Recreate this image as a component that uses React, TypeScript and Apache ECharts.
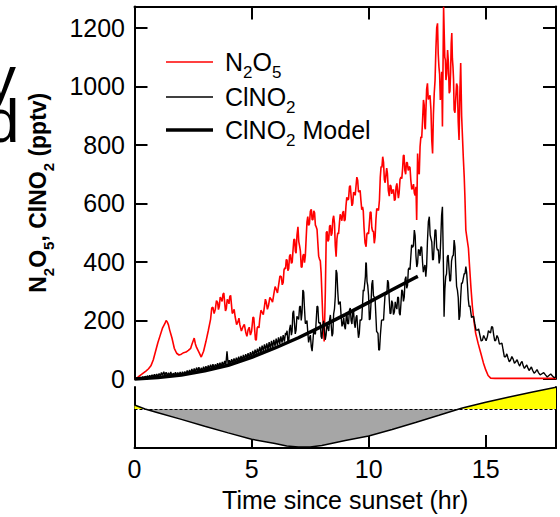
import { useEffect, useRef } from 'react';
import * as echarts from 'echarts';

const FONT = '"Liberation Sans", Arial, Helvetica, sans-serif';

// N2O5 (pptv) vs time since sunset (hr) — main trace readings
const n2o5Main: [number, number][] = [
  [0, 0], [0.1, 3], [0.2, 10], [0.3, 16], [0.4, 22], [0.5, 28], [0.6, 35], [0.7, 45], [0.8, 65], [0.9, 95],
  [1.0, 125], [1.1, 150], [1.2, 175], [1.3, 190], [1.35, 200], [1.4, 195], [1.45, 185], [1.5, 168], [1.6, 140],
  [1.7, 105], [1.8, 88], [1.9, 82], [2.0, 85], [2.1, 90], [2.2, 92], [2.3, 98], [2.4, 105], [2.45, 118],
  [2.55, 140], [2.6, 120], [2.65, 108], [2.75, 92], [2.85, 75], [2.95, 95], [3.05, 128], [3.15, 165],
  [3.25, 205], [3.35, 245], [3.45, 238], [3.55, 262], [3.62, 248], [3.7, 275], [3.78, 290], [3.85, 262],
  [3.92, 240], [4.0, 268], [4.07, 282], [4.14, 255], [4.21, 228], [4.3, 212], [4.42, 196], [4.5, 185],
  [4.63, 178], [4.75, 160], [4.85, 168], [4.95, 150], [5.06, 212], [5.13, 170], [5.2, 133], [5.28, 180],
  [5.35, 205], [5.45, 228], [5.55, 248], [5.63, 262], [5.72, 250], [5.84, 272], [5.95, 290], [6.06, 305],
  [6.15, 318], [6.27, 350], [6.35, 330], [6.42, 380], [6.48, 408], [6.55, 370], [6.62, 420], [6.7, 395],
  [6.77, 440], [6.84, 478], [6.9, 430], [6.98, 520], [7.05, 455], [7.12, 382], [7.19, 420], [7.26, 398],
  [7.33, 480], [7.4, 555], [7.47, 530], [7.55, 580], [7.62, 545], [7.69, 568], [7.76, 520], [7.83, 465],
  [7.9, 410], [7.97, 362], [8.04, 212], [8.1, 128], [8.15, 300], [8.19, 500], [8.26, 470], [8.33, 522],
  [8.4, 490], [8.47, 545], [8.54, 532], [8.61, 418], [8.68, 500], [8.75, 532], [8.82, 555], [8.89, 568],
  [8.96, 540], [9.03, 590], [9.1, 612], [9.18, 657], [9.25, 625], [9.32, 600], [9.39, 636], [9.46, 660],
  [9.53, 680], [9.6, 640], [9.67, 610], [9.74, 588], [9.8, 520], [9.89, 452], [9.96, 500], [10.03, 532],
  [10.1, 570], [10.17, 505], [10.24, 464], [10.31, 545], [10.38, 580], [10.46, 612], [10.53, 726],
  [10.6, 760], [10.67, 682], [10.74, 700], [10.8, 703], [10.88, 625], [10.95, 660], [11.02, 645],
  [11.1, 610], [11.17, 657], [11.24, 640], [11.3, 635], [11.38, 690], [11.45, 720], [11.51, 766],
  [11.58, 700], [11.65, 740], [11.73, 726], [11.8, 680], [11.88, 655], [11.95, 636], [12.02, 657],
  [12.05, 544], [12.09, 771], [12.16, 700], [12.23, 828], [12.3, 880], [12.34, 954], [12.4, 860],
  [12.44, 908], [12.51, 1011], [12.58, 960], [12.66, 920], [12.73, 771], [12.8, 977], [12.87, 1125],
  [12.94, 1216], [13.0, 1068], [13.06, 954], [13.12, 1050], [13.15, 863], [13.2, 1273], [13.25, 1100],
  [13.3, 1022], [13.37, 1125], [13.44, 977], [13.5, 1050], [13.55, 1183], [13.6, 1068], [13.65, 920],
  [13.72, 960], [13.79, 1000], [13.86, 817], [13.93, 1080], [13.97, 900], [14.0, 840], [14.04, 760],
  [14.08, 692], [14.11, 623], [14.15, 509], [14.2, 480], [14.26, 447], [14.31, 384], [14.37, 310],
  [14.43, 247], [14.5, 195], [14.57, 156], [14.68, 120], [14.79, 88], [14.9, 55], [15.0, 31], [15.1, 12],
  [15.21, 3], [15.4, 2], [16, 2], [17, 2], [18, 2],
];

// N2O5 short-term fluctuations read between the main readings
const n2o5Jitter: [number, number][] = [
  [3.3, 243], [3.4, 224], [3.5, 268], [3.585, 237], [3.66, 280], [3.74, 265], [3.815, 294], [3.885, 233],
  [3.96, 272], [4.035, 257], [4.105, 286], [4.175, 224], [4.255, 238], [4.36, 186], [4.46, 208], [4.565, 164],
  [4.69, 187], [4.8, 146], [4.9, 177], [5.0, 163], [5.095, 209], [5.165, 134], [5.24, 175], [5.315, 175],
  [5.4, 235], [5.5, 220], [5.59, 273], [5.675, 238], [5.78, 279], [5.895, 263], [6.005, 316], [6.105, 294],
  [6.21, 352], [6.31, 322], [6.385, 373], [6.45, 376], [6.515, 407], [6.585, 377], [6.66, 426], [6.735, 400],
  [6.805, 477], [6.87, 436], [6.94, 493], [7.015, 470], [7.085, 437], [7.155, 383], [7.225, 427], [7.295, 421],
  [7.365, 536], [7.435, 525], [7.51, 573], [7.585, 545], [7.655, 575], [7.725, 526], [7.795, 511], [7.865, 420],
  [7.935, 404], [8.225, 505], [8.295, 476], [8.365, 526], [8.435, 498], [8.505, 558], [8.575, 455], [8.645, 479],
  [8.715, 496], [8.785, 563], [8.855, 541], [8.925, 574], [8.995, 545], [9.065, 621], [9.14, 615], [9.215, 661],
  [9.285, 592], [9.355, 638], [9.425, 628], [9.495, 690], [9.565, 640], [9.635, 645], [9.705, 579], [9.77, 574],
  [9.845, 466], [9.925, 496], [9.995, 496], [10.065, 571], [10.135, 517], [10.205, 505], [10.275, 485],
  [10.345, 583], [10.42, 576], [10.495, 689], [10.565, 723], [10.635, 741], [10.705, 671], [10.77, 721],
  [10.84, 644], [10.915, 663], [10.985, 633], [11.06, 648], [11.135, 614], [11.205, 669], [11.27, 618],
  [11.34, 683], [11.415, 685], [11.48, 763], [11.545, 713], [11.615, 740], [11.69, 713], [11.765, 723],
  [11.84, 648], [11.915, 666], [11.985, 627], [12.125, 706], [12.195, 794], [12.265, 824], [12.37, 937],
  [12.42, 854], [12.475, 990], [12.545, 956], [12.62, 970], [12.695, 816], [12.765, 904], [12.835, 1021],
  [12.905, 1200], [12.97, 1112], [13.03, 1041], [13.09, 972], [13.275, 1091], [13.335, 1044], [13.405, 1081],
  [13.47, 984], [13.525, 1147], [13.575, 1096], [13.625, 1024], [13.685, 910], [13.755, 1010], [13.825, 879],
  [13.895, 979],
];

// ClNO2 measured (pptv) — early part (dense band)
const clno2Early: [number, number][] = [
  [0, 0], [0.05, 3], [0.1, 1], [0.15, 5], [0.2, 2], [0.25, 6], [0.3, 3], [0.35, 8], [0.4, 4], [0.45, 9],
  [0.5, 5], [0.55, 11], [0.6, 6], [0.65, 12], [0.7, 7], [0.75, 14], [0.8, 8], [0.85, 16], [0.9, 9], [0.95, 17],
  [1.0, 8], [1.05, 19], [1.1, 10], [1.15, 22], [1.2, 12], [1.25, 25], [1.3, 13], [1.35, 23], [1.4, 11], [1.45, 21],
  [1.5, 12], [1.55, 24], [1.6, 10], [1.65, 20], [1.7, 13], [1.75, 23], [1.8, 11], [1.85, 22], [1.9, 13], [1.95, 24],
  [2.0, 12], [2.05, 25], [2.1, 14], [2.15, 26], [2.2, 16], [2.25, 29], [2.3, 18], [2.35, 31], [2.4, 20], [2.45, 34],
  [2.5, 22], [2.55, 36], [2.6, 25], [2.65, 39], [2.7, 27], [2.75, 40], [2.8, 26], [2.85, 38], [2.9, 28], [2.95, 42],
  [3.0, 30], [3.05, 44], [3.1, 32], [3.15, 46], [3.2, 34], [3.25, 49], [3.3, 36], [3.35, 51], [3.4, 38], [3.45, 50],
  [3.5, 40], [3.55, 54], [3.6, 41], [3.65, 56], [3.7, 43], [3.75, 58], [3.8, 45], [3.85, 62], [3.9, 48], [3.95, 95],
  [4.0, 50], [4.05, 64], [4.1, 52], [4.15, 68], [4.2, 55], [4.25, 70], [4.3, 57], [4.35, 73], [4.4, 60], [4.45, 76],
  [4.5, 62], [4.55, 79], [4.6, 64], [4.65, 82], [4.7, 67], [4.75, 85], [4.8, 70], [4.85, 88], [4.9, 72], [4.95, 92],
  [5.0, 75], [5.05, 96], [5.1, 80], [5.15, 100], [5.2, 84], [5.25, 104], [5.3, 88], [5.35, 110], [5.4, 90], [5.45, 114],
  [5.5, 95], [5.55, 118], [5.6, 98], [5.65, 122], [5.7, 100], [5.75, 126], [5.8, 104], [5.85, 130], [5.9, 108], [5.95, 134],
  [6.0, 112], [6.05, 138], [6.1, 116], [6.15, 142], [6.2, 120], [6.25, 146], [6.3, 124], [6.35, 150], [6.4, 128], [6.45, 158],
];

// ClNO2 measured (pptv) — later part
const clno2Late: [number, number][] = [
  [6.48, 150], [6.55, 130], [6.62, 170], [6.7, 150], [6.76, 225], [6.83, 190], [6.9, 167], [6.97, 210], [7.05, 247],
  [7.12, 200], [7.19, 304], [7.26, 240], [7.33, 190], [7.4, 160], [7.47, 140], [7.55, 110], [7.62, 130],
  [7.69, 156], [7.76, 200], [7.83, 247], [7.9, 190], [7.97, 145], [8.04, 180], [8.11, 167], [8.18, 150],
  [8.26, 175], [8.33, 202], [8.4, 185], [8.47, 156], [8.54, 240], [8.61, 373], [8.68, 300], [8.75, 259],
  [8.82, 220], [8.9, 190], [8.97, 179], [9.04, 210], [9.1, 190], [9.18, 236], [9.25, 200], [9.32, 225],
  [9.39, 190], [9.46, 210], [9.53, 175], [9.6, 156], [9.67, 200], [9.74, 259], [9.8, 300], [9.86, 350],
  [9.9, 395], [9.96, 320], [10.03, 202], [10.1, 260], [10.17, 338], [10.24, 280], [10.31, 213],
  [10.37, 160], [10.43, 99], [10.5, 150], [10.6, 202], [10.67, 250], [10.74, 290], [10.81, 338],
  [10.88, 270], [10.95, 225], [11.02, 260], [11.1, 230], [11.17, 247], [11.24, 280], [11.31, 225],
  [11.38, 260], [11.45, 300], [11.52, 280], [11.59, 350], [11.66, 320], [11.73, 380], [11.8, 418],
  [11.87, 450], [11.95, 509], [12.02, 420], [12.09, 395], [12.16, 440], [12.23, 452], [12.3, 400],
  [12.37, 380], [12.44, 350], [12.51, 470], [12.59, 555], [12.66, 480], [12.73, 407], [12.8, 460],
  [12.87, 509], [12.94, 440], [13.01, 395], [13.08, 480], [13.15, 589], [13.19, 400], [13.22, 213],
  [13.29, 350], [13.36, 418], [13.43, 380], [13.5, 338], [13.58, 420], [13.65, 475], [13.72, 380],
  [13.79, 304], [13.86, 202], [13.93, 280], [14.0, 327], [14.08, 360], [14.15, 384], [14.22, 320],
  [14.29, 247], [14.36, 230], [14.43, 213], [14.53, 190], [14.64, 167], [14.75, 150], [14.86, 133],
  [14.96, 140], [15.07, 145], [15.16, 160], [15.25, 179], [15.34, 150], [15.43, 133], [15.53, 140],
  [15.64, 121], [15.74, 100], [15.85, 76], [15.95, 72], [16.06, 65], [16.17, 68], [16.28, 59], [16.4, 52],
  [16.5, 55], [16.6, 45], [16.7, 42], [16.8, 38], [16.9, 35], [17.0, 30], [17.13, 25], [17.25, 22],
  [17.4, 18], [17.55, 14], [17.7, 12], [17.85, 10], [18.0, 8],
];

// ClNO2 short-term fluctuations read between the later readings
const clno2Jitter: [number, number][] = [
  [6.515, 165], [6.585, 125], [6.66, 185], [6.73, 163], [6.795, 233], [6.865, 154], [6.935, 214], [7.01, 204],
  [7.085, 249], [7.155, 227], [7.225, 297], [7.295, 190], [7.365, 200], [7.435, 125], [7.51, 150], [7.585, 95],
  [7.655, 168], [7.725, 153], [7.795, 249], [7.865, 194], [7.935, 193], [8.005, 138], [8.075, 199], [8.145, 134],
  [8.22, 188], [8.295, 164], [8.365, 219], [8.435, 146], [8.505, 223], [8.575, 282], [8.645, 362], [8.715, 255],
  [8.785, 265], [8.86, 180], [8.935, 210], [9.005, 170], [9.07, 225], [9.14, 188], [9.215, 243], [9.285, 188],
  [9.355, 233], [9.425, 175], [9.495, 218], [9.565, 141], [9.635, 203], [9.705, 205], [9.77, 305], [9.83, 300],
  [9.88, 398], [9.93, 333], [9.995, 286], [10.065, 206], [10.135, 324], [10.205, 284], [10.275, 272],
  [10.34, 162], [10.4, 155], [10.465, 100], [10.55, 201], [10.635, 201], [10.705, 295], [10.775, 289],
  [10.845, 329], [10.915, 223], [10.985, 268], [11.06, 220], [11.135, 264], [11.205, 239], [11.275, 278],
  [11.345, 218], [11.415, 305], [11.485, 265], [11.555, 340], [11.625, 310], [11.695, 375], [11.765, 374],
  [11.835, 459], [11.91, 455], [11.985, 490], [12.055, 383], [12.125, 443], [12.195, 421], [12.265, 451],
  [12.335, 365], [12.405, 390], [12.475, 385], [12.55, 538], [12.625, 493], [12.695, 469], [12.765, 409],
  [12.835, 510], [12.905, 450], [12.975, 443], [13.045, 413], [13.115, 560], [13.255, 307], [13.325, 359],
  [13.395, 424], [13.465, 334], [13.54, 404], [13.615, 423], [13.685, 453], [13.755, 317], [13.825, 278],
  [13.895, 216], [13.965, 329], [14.115, 360], [14.185, 364], [14.255, 272], [14.325, 251], [14.395, 210],
  [14.48, 214], [14.585, 167], [14.695, 171], [14.805, 130], [14.91, 149], [15.015, 131], [15.115, 165],
  [15.205, 158], [15.295, 177], [15.385, 130], [15.48, 149], [15.585, 119], [15.69, 123], [15.795, 76],
  [15.9, 86], [16.005, 59], [16.115, 77], [16.225, 54], [16.34, 66], [16.45, 44], [16.55, 60], [16.65, 36],
  [16.75, 48], [16.85, 29], [16.95, 41], [17.065, 20], [17.19, 32], [17.325, 14], [17.475, 22], [17.625, 7],
  [17.775, 17], [17.925, 4],
];

// ClNO2 model (pptv)
const clno2Model: [number, number][] = [
  [0, 0], [1, 5], [2, 14], [3, 28], [4, 47], [5, 74], [6, 106], [7, 141], [8, 180], [9, 220],
  [10, 262], [11, 305], [12, 347], [12.1, 351],
];

// Solar elevation indicator for the lower strip (arbitrary degrees)
const sunTime = [0, 0.45, 1, 2, 3, 4, 5, 6, 6.5, 7, 7.5, 8, 8.5, 9, 10, 11, 12, 13, 13.86, 14, 15, 16, 17, 18];
const sunElev = [4, 0, -3.7, -10.4, -17.2, -23.9, -30.3, -34.5, -37, -38, -38, -36.5, -34, -31.5, -27, -20.5, -13.5, -6.3, 0, 1, 6.8, 12, 17, 21.7];

const yTicks = [0, 200, 400, 600, 800, 1000, 1200];
const xTicks = [0, 5, 10, 15];

const merge = (...parts: [number, number][][]) =>
  parts.flat().slice().sort((a, b) => a[0] - b[0]);

export default function App() {
  const ref = useRef<HTMLDivElement>(null);

  useEffect(() => {
    if (!ref.current) return;
    const chart = echarts.init(ref.current, undefined, { renderer: 'svg' });

    const n2o5 = merge(n2o5Main, n2o5Jitter);
    const clno2 = merge(clno2Early, clno2Late, clno2Jitter);
    const sun = sunTime.map((t, i) => [t, sunElev[i]]);
    const sunNeg = sunTime.map((t, i) => [t, Math.min(0, sunElev[i])]);
    const sunPos = sunTime.map((t, i) => [t, Math.max(0, sunElev[i])]);

    const axisLine = { show: true, onZero: false, lineStyle: { color: '#000', width: 2 } };
    const tick = { show: true, inside: true, length: 13, lineStyle: { color: '#000', width: 2 } };
    const labelStyle = { color: '#000', fontFamily: FONT, fontSize: 25 };

    const sub = (size: number, bold: boolean, pad: number) => ({
      fontSize: size, fontFamily: FONT, fontWeight: bold ? 'bold' : 'normal', color: '#000',
      lineHeight: 26, verticalAlign: 'top', padding: [pad, 0, 0, 0],
    });
    const main = (size: number, bold: boolean) => ({
      fontSize: size, fontFamily: FONT, fontWeight: bold ? 'bold' : 'normal', color: '#000',
      lineHeight: 26, verticalAlign: 'top',
    });
    const legendRich = { a: main(25, false), s: sub(17, false, 15) };

    const gridLeft = 134.5;
    const gridRight = 4;

    chart.setOption({
      animation: false,
      backgroundColor: '#fff',
      grid: [
        { left: gridLeft, right: gridRight, top: 6.5, height: 372.5, outerBoundsMode: 'none' },
        { left: gridLeft, right: gridRight, top: 387, height: 61, outerBoundsMode: 'none' },
      ],
      xAxis: [
        {
          type: 'value', gridIndex: 0, position: 'top', min: 0, max: 18, interval: 5,
          axisLine, axisTick: tick, axisLabel: { show: false }, splitLine: { show: false },
        },
        {
          type: 'value', gridIndex: 1, position: 'bottom', min: 0, max: 18, interval: 5,
          axisLine, axisTick: tick, splitLine: { show: false },
          axisLabel: { ...labelStyle, margin: 8, showMaxLabel: false, formatter: (v: number) => (xTicks.includes(v) ? String(v) : '') },
          name: 'Time since sunset (hr)', nameLocation: 'middle', nameGap: 39,
          nameTextStyle: { color: '#000', fontFamily: FONT, fontSize: 25 },
        },
      ],
      yAxis: [
        {
          type: 'value', gridIndex: 0, position: 'left', min: 0, max: 1273.5, interval: 200,
          axisLine, axisTick: tick, splitLine: { show: false },
          axisLabel: { ...labelStyle, margin: 9.5, showMaxLabel: false, formatter: (v: number) => (yTicks.includes(v) ? String(v) : '') },
          name: '{b|N}{bs|2}{b|O}{bs|5}{b|, ClNO}{bs|2}{b| (pptv)}',
          nameLocation: 'middle', nameGap: 82, nameRotate: 90, nameMoveOverlap: false,
          nameTextStyle: { rich: { b: main(23, true), bs: sub(15, true, 14) } },
        },
        {
          type: 'value', gridIndex: 0, position: 'right', min: 0, max: 1273.5, interval: 200,
          axisLine, axisTick: tick, axisLabel: { show: false }, splitLine: { show: false },
        },
        {
          type: 'value', gridIndex: 1, position: 'left', min: -39, max: 22,
          axisLine, axisTick: { show: false }, axisLabel: { show: false }, splitLine: { show: false },
        },
        {
          type: 'value', gridIndex: 1, position: 'right', min: -39, max: 22,
          axisLine, axisTick: { show: false }, axisLabel: { show: false }, splitLine: { show: false },
        },
      ],
      series: [
        {
          name: 'N2O5', type: 'line', xAxisIndex: 0, yAxisIndex: 0, data: n2o5, symbol: 'none',
          clip: false, lineStyle: { color: '#ff0000', width: 1.6 }, z: 3,
        },
        {
          name: 'ClNO2', type: 'line', xAxisIndex: 0, yAxisIndex: 0, data: clno2, symbol: 'none',
          clip: false, lineStyle: { color: '#000', width: 1.4 }, z: 4,
        },
        {
          name: 'ClNO2 Model', type: 'line', xAxisIndex: 0, yAxisIndex: 0, data: clno2Model, symbol: 'none',
          clip: false, lineStyle: { color: '#000', width: 3.5 }, z: 5,
        },
        {
          name: 'night', type: 'line', xAxisIndex: 1, yAxisIndex: 2, data: sunNeg, symbol: 'none',
          lineStyle: { width: 0, opacity: 0 }, areaStyle: { color: '#a6a6a6', opacity: 1 }, z: 3,
        },
        {
          name: 'day', type: 'line', xAxisIndex: 1, yAxisIndex: 2, data: sunPos, symbol: 'none',
          lineStyle: { width: 0, opacity: 0 }, areaStyle: { color: '#ffff00', opacity: 1 }, z: 3,
        },
        {
          name: 'sun', type: 'line', xAxisIndex: 1, yAxisIndex: 2, data: sun, symbol: 'none',
          lineStyle: { color: '#000', width: 1.5 }, z: 5,
          markLine: {
            silent: true, symbol: 'none', label: { show: false },
            lineStyle: { color: '#000', width: 1, type: [3, 2] },
            data: [{ yAxis: 0 }],
          },
        },
      ],
      graphic: [
        {
          type: 'text', x: -15, y: 56,
          style: { text: 'y\nd', font: `62px ${FONT}`, lineHeight: 43, fill: '#000', verticalAlign: 'top' },
        },
        { type: 'line', shape: { x1: 166, y1: 62, x2: 213, y2: 62 }, style: { stroke: '#ff0000', lineWidth: 1.6 } },
        { type: 'line', shape: { x1: 166, y1: 97, x2: 213, y2: 97 }, style: { stroke: '#000', lineWidth: 1.4 } },
        { type: 'line', shape: { x1: 166, y1: 130, x2: 213, y2: 130 }, style: { stroke: '#000', lineWidth: 3.5 } },
        { type: 'text', x: 225, y: 62, style: { text: '{a|N}{s|2}{a|O}{s|5}', rich: legendRich, verticalAlign: 'middle' } },
        { type: 'text', x: 225, y: 97, style: { text: '{a|ClNO}{s|2}', rich: legendRich, verticalAlign: 'middle' } },
        { type: 'text', x: 225, y: 130, style: { text: '{a|ClNO}{s|2}{a| Model}', rich: legendRich, verticalAlign: 'middle' } },
      ],
    });

    return () => chart.dispose();
  }, []);

  return <div ref={ref} style={{ position: 'fixed', left: 0, top: 0, width: 560, height: 517 }} />;
}
